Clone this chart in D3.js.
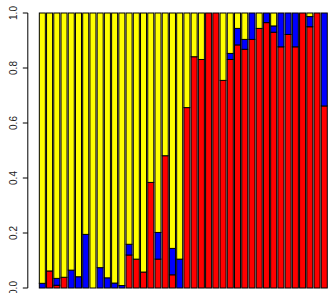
<!DOCTYPE html>
<html>
<head>
<meta charset="utf-8">
<script src="https://cdn.jsdelivr.net/npm/d3@7"></script>
<style>
  html, body { margin: 0; padding: 0; background: #fff; }
  svg { display: block; }
  .tick-label { font-family: "Liberation Sans", Arial, sans-serif; font-size: 10px; fill: #222; }
</style>
</head>
<body>
<svg id="chart" width="328" height="293"></svg>
<script>
// proportions per bar, stacked bottom -> top: red, blue, yellow
const redShare = [
  0, 0.062, 0.01, 0.039, 0, 0, 0, 0, 0, 0,
  0, 0, 0.12, 0.105, 0.058, 0.384, 0.105, 0.481, 0.048, 0,
  0.656, 0.841, 0.831, 1, 1, 0.755, 0.831, 0.884, 0.868, 0.904,
  0.944, 0.965, 0.93, 0.877, 0.922, 0.877, 1, 0.95, 1, 0.662
];
const blueShare = [
  0.017, 0, 0.025, 0, 0.065, 0.041, 0.195, 0, 0.074, 0.037,
  0.018, 0.009, 0.039, 0, 0, 0, 0.097, 0, 0.096, 0.105,
  0, 0, 0, 0, 0, 0, 0.022, 0.06, 0.036, 0.096,
  0, 0.035, 0.023, 0.123, 0.078, 0.123, 0, 0.037, 0, 0.338
];
const yellowShare = [
  0.983, 0.938, 0.965, 0.961, 0.935, 0.959, 0.805, 1, 0.926, 0.963,
  0.982, 0.991, 0.841, 0.895, 0.942, 0.616, 0.798, 0.519, 0.856, 0.895,
  0.344, 0.159, 0.169, 0, 0, 0.245, 0.147, 0.056, 0.096, 0,
  0.056, 0, 0.047, 0, 0, 0, 0, 0.013, 0, 0
];
const yTicks = [0, 0.2, 0.4, 0.6, 0.8, 1.0];

const keys   = ["red", "blue", "yellow"],
      colors = {red: "#ff0000", blue: "#0000ff", yellow: "#ffff00"},
      barW   = 1,
      space  = 0.2,
      n      = redShare.length;

let rows = redShare.map((r, i) => ({i: i, red: r, blue: blueShare[i], yellow: yellowShare[i]}));

// R-style barplot user coordinates, 4% padding on both axes
let xMin = space, xMax = n * (barW + space),
    xPad = (xMax - xMin) * 0.04;

let x = d3.scaleLinear().domain([xMin - xPad, xMax + xPad]).range([27.8, 338.8]),
    y = d3.scaleLinear().domain([-0.04, 1.04]).range([299, 2]);

let svg = d3.select("#chart");

let series = d3.stack().keys(keys)(rows);

svg.append("g")
  .selectAll("g")
  .data(series)
  .join("g")
    .attr("fill", d => colors[d.key])
  .selectAll("rect")
  .data(d => d.filter(s => s[1] - s[0] > 0))
  .join("rect")
    .attr("x", d => x(space + d.data.i * (barW + space)))
    .attr("width", x(barW) - x(0))
    .attr("y", d => y(d[1]))
    .attr("height", d => y(d[0]) - y(d[1]))
    .attr("stroke", "#000")
    .attr("stroke-width", 1);

// y axis, R style: line, outward ticks, labels parallel to axis
let axisX = x(xMin - xPad);
let axis = svg.append("g");

axis.append("line")
  .attr("x1", axisX).attr("x2", axisX)
  .attr("y1", y(0)).attr("y2", y(1))
  .attr("stroke", "#000");

axis.selectAll(".tick")
  .data(yTicks)
  .join("line")
    .attr("x1", axisX - 5).attr("x2", axisX)
    .attr("y1", d => y(d)).attr("y2", d => y(d))
    .attr("stroke", "#000");

axis.selectAll("text")
  .data(yTicks)
  .join("text")
    .attr("class", "tick-label")
    .attr("text-anchor", "middle")
    .attr("transform", d => "translate(16.5," + y(d) + ") rotate(-90)")
    .text(d3.format(".1f"));
</script>
</body>
</html>
